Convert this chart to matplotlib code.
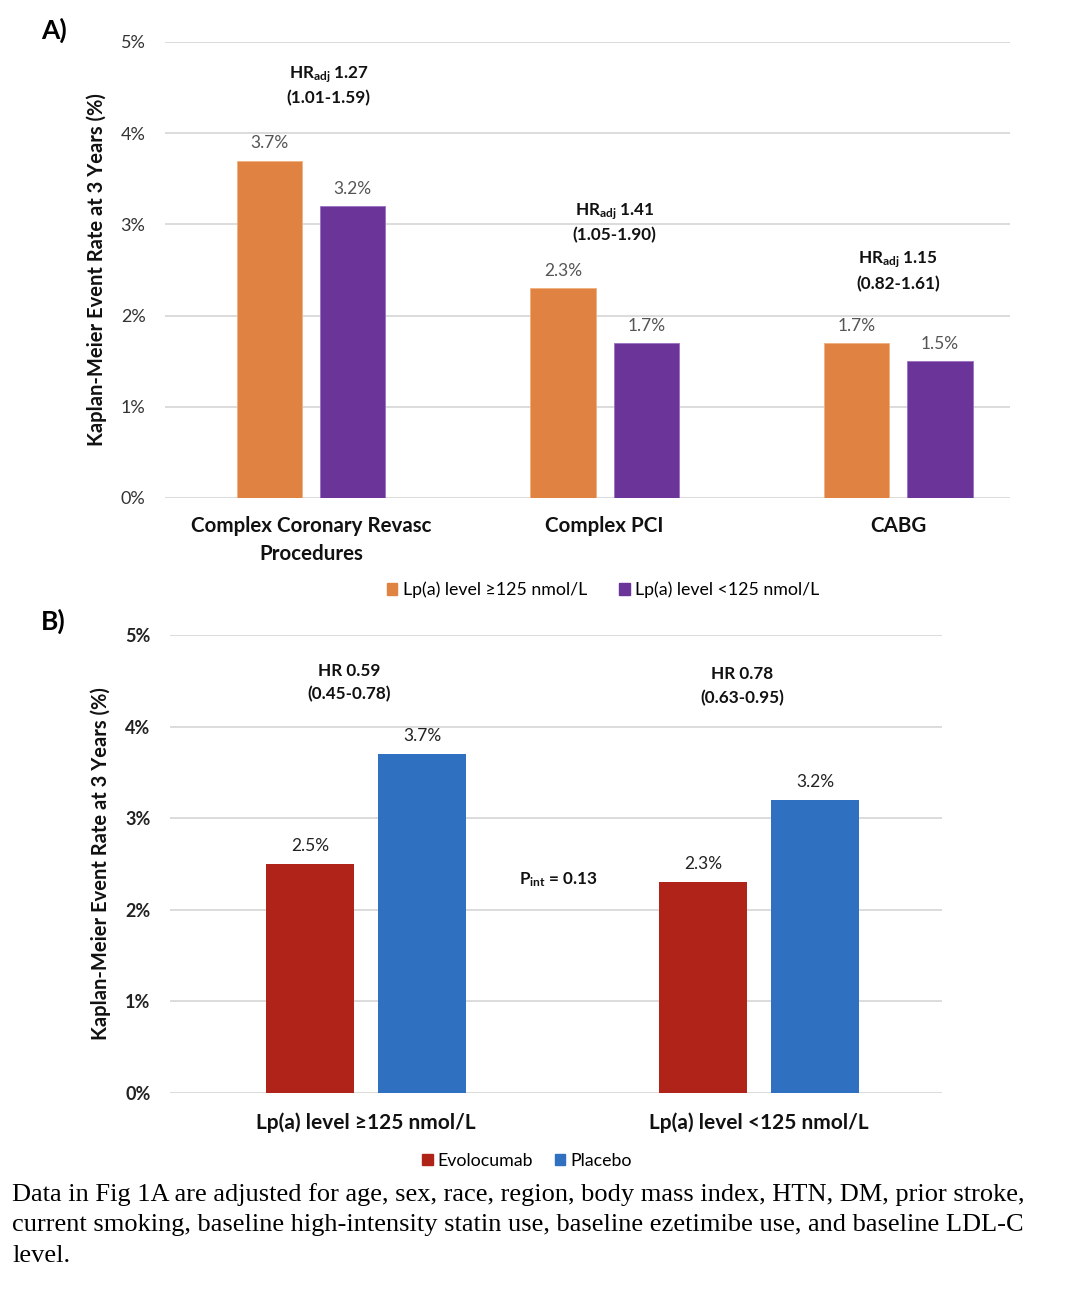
import numpy as np
import matplotlib
matplotlib.use("Agg")
from matplotlib import pyplot as plt
from matplotlib.patches import Patch

plt.rcParams["font.family"] = ["Lato", "DejaVu Sans"]
plt.rcParams["mathtext.fontset"] = "custom"
plt.rcParams["mathtext.rm"] = "Lato"
plt.rcParams["mathtext.bf"] = "Lato:bold"

# panel A data
a_cats = ["Complex Coronary Revasc\nProcedures", "Complex PCI", "CABG"]
a_high = [3.7, 2.3, 1.7]   # Lp(a) >=125
a_low = [3.2, 1.7, 1.5]    # Lp(a) <125
a_hr = ["1.27", "1.41", "1.15"]
a_ci = ["(1.01-1.59)", "(1.05-1.90)", "(0.82-1.61)"]
a_series = ["Lp(a) level \u2265125 nmol/L", "Lp(a) level <125 nmol/L"]

# panel B data
b_cats = ["Lp(a) level \u2265125 nmol/L", "Lp(a) level <125 nmol/L"]
b_evo = [2.5, 2.3]
b_pla = [3.7, 3.2]
b_hr = ["0.59", "0.78"]
b_ci = ["(0.45-0.78)", "(0.63-0.95)"]
b_series = ["Evolocumab", "Placebo"]
p_int = "0.13"

yticks = [0, 1, 2, 3, 4, 5]
ylab = "Kaplan-Meier Event Rate at 3 Years (%)"

ORANGE = "#E08342"
PURPLE = "#6A3499"
RED = "#AF2318"
BLUE = "#3070C0"
GRID = "#D9D9D9"

W, H = 1076, 1292
fig = plt.figure(figsize=(W / 100, H / 100), dpi=100)

def px_axes(l, t, r, b):
    return fig.add_axes([l / W, 1 - b / H, (r - l) / W, (b - t) / H])

def style(ax, bold_ticks):
    ax.set_ylim(0, 5)
    ax.set_yticks(yticks)
    ax.set_yticklabels(["%d%%" % v for v in yticks],
                       fontweight="bold" if bold_ticks else "normal",
                       color="#222222" if bold_ticks else "#333333")
    ax.yaxis.grid(True, color=GRID, lw=1.3)
    ax.set_axisbelow(True)
    for s in ax.spines.values():
        s.set_visible(False)
    ax.tick_params(axis="both", length=0, labelsize=13)
    ax.tick_params(axis="y", pad=14)

# ---- panel A
axA = px_axes(165, 42, 1010, 498)
style(axA, False)
xa = np.arange(len(a_cats))
bw = 0.222
off = 0.142
axA.bar(xa - off, a_high, bw, color=ORANGE, edgecolor="#F0B080", lw=0.6)
axA.bar(xa + off, a_low, bw, color=PURPLE, edgecolor="#9A70C0", lw=0.6)
axA.set_xlim(-0.497, 2.38)
axA.set_xticks(xa)
axA.set_xticklabels(a_cats, fontweight="bold", fontsize=14.8, color="#111111",
                    linespacing=1.5)
axA.tick_params(axis="x", pad=13)
for i in range(len(a_cats)):
    axA.text(xa[i] - off, a_high[i] + 0.19, "%.1f%%" % a_high[i], ha="center",
             va="center", fontsize=12.5, color="#555555")
    axA.text(xa[i] + off, a_low[i] + 0.19, "%.1f%%" % a_low[i], ha="center",
             va="center", fontsize=12.5, color="#555555")
a_txt_dx = [0.06, 0.034, 0.0]
a_txt_y = [4.64, 3.14, 2.61]
for i in range(len(a_cats)):
    axA.text(xa[i] + a_txt_dx[i], a_txt_y[i], r"$\mathbf{HR_{adj}}$ " + a_hr[i],
             ha="center", va="center", fontsize=12.3, fontweight="bold", color="#111111")
    axA.text(xa[i] + a_txt_dx[i], a_txt_y[i] - 0.26, a_ci[i],
             ha="center", va="center", fontsize=12.3, fontweight="bold", color="#111111")
axA.set_ylabel(ylab, fontweight="bold", fontsize=14.5, color="#111111", labelpad=10)

fig.legend(handles=[Patch(color=ORANGE), Patch(color=PURPLE)], labels=a_series,
           loc="center", bbox_to_anchor=(603 / W, 1 - 590 / H), ncol=2, frameon=False,
           fontsize=12.8, handlelength=0.6, handleheight=0.6, handletextpad=0.3,
           columnspacing=1.8)

# ---- panel B
axB = px_axes(170, 635, 942, 1093)
style(axB, True)
xb = np.arange(len(b_cats))
bwb = 0.224
offb = 0.1425
axB.bar(xb - offb, b_evo, bwb, color=RED)
axB.bar(xb + offb, b_pla, bwb, color=BLUE)
axB.set_xlim(-0.499, 1.466)
axB.set_xticks(xb)
axB.set_xticklabels(b_cats, fontweight="bold", fontsize=15, color="#111111")
axB.tick_params(axis="x", pad=14)
for i in range(len(b_cats)):
    axB.text(xb[i] - offb, b_evo[i] + 0.2, "%.1f%%" % b_evo[i], ha="center",
             va="center", fontsize=12.5, color="#222222")
    axB.text(xb[i] + offb, b_pla[i] + 0.2, "%.1f%%" % b_pla[i], ha="center",
             va="center", fontsize=12.5, color="#222222")
b_txt_y = [4.61, 4.57]
for i in range(len(b_cats)):
    axB.text(xb[i] - 0.043, b_txt_y[i], "HR " + b_hr[i], ha="center", va="center",
             fontsize=12.3, fontweight="bold", color="#111111")
    axB.text(xb[i] - 0.043, b_txt_y[i] - 0.26, b_ci[i], ha="center", va="center",
             fontsize=12.3, fontweight="bold", color="#111111")
axB.text(0.489, 2.33, r"$\mathbf{P_{int}}$ = " + p_int, ha="center", va="center",
         fontsize=12.3, fontweight="bold", color="#111111")
axB.set_ylabel(ylab, fontweight="bold", fontsize=14.5, color="#111111", labelpad=10)

fig.legend(handles=[Patch(color=RED), Patch(color=BLUE)], labels=b_series,
           loc="center", bbox_to_anchor=(527 / W, 1 - 1161 / H), ncol=2, frameon=False,
           fontsize=12.8, handlelength=0.6, handleheight=0.6, handletextpad=0.3,
           columnspacing=1.2)

# panel letters
fig.text(41 / W, 1 - 30 / H, "A)", fontsize=19, fontweight="bold", va="center")
fig.text(41 / W, 1 - 621 / H, "B)", fontsize=19, fontweight="bold", va="center")

# footnote
foot = ("Data in Fig 1A are adjusted for age, sex, race, region, body mass index, HTN, DM, prior stroke,\n"
        "current smoking, baseline high-intensity statin use, baseline ezetimibe use, and baseline LDL-C\n"
        "level.")
fig.text(12 / W, 1 - 1183 / H, foot, family=["Liberation Serif"], fontsize=19,
         va="top", ha="left", linespacing=1.49, color="#000000")

fig.savefig("out.png", dpi=100)
